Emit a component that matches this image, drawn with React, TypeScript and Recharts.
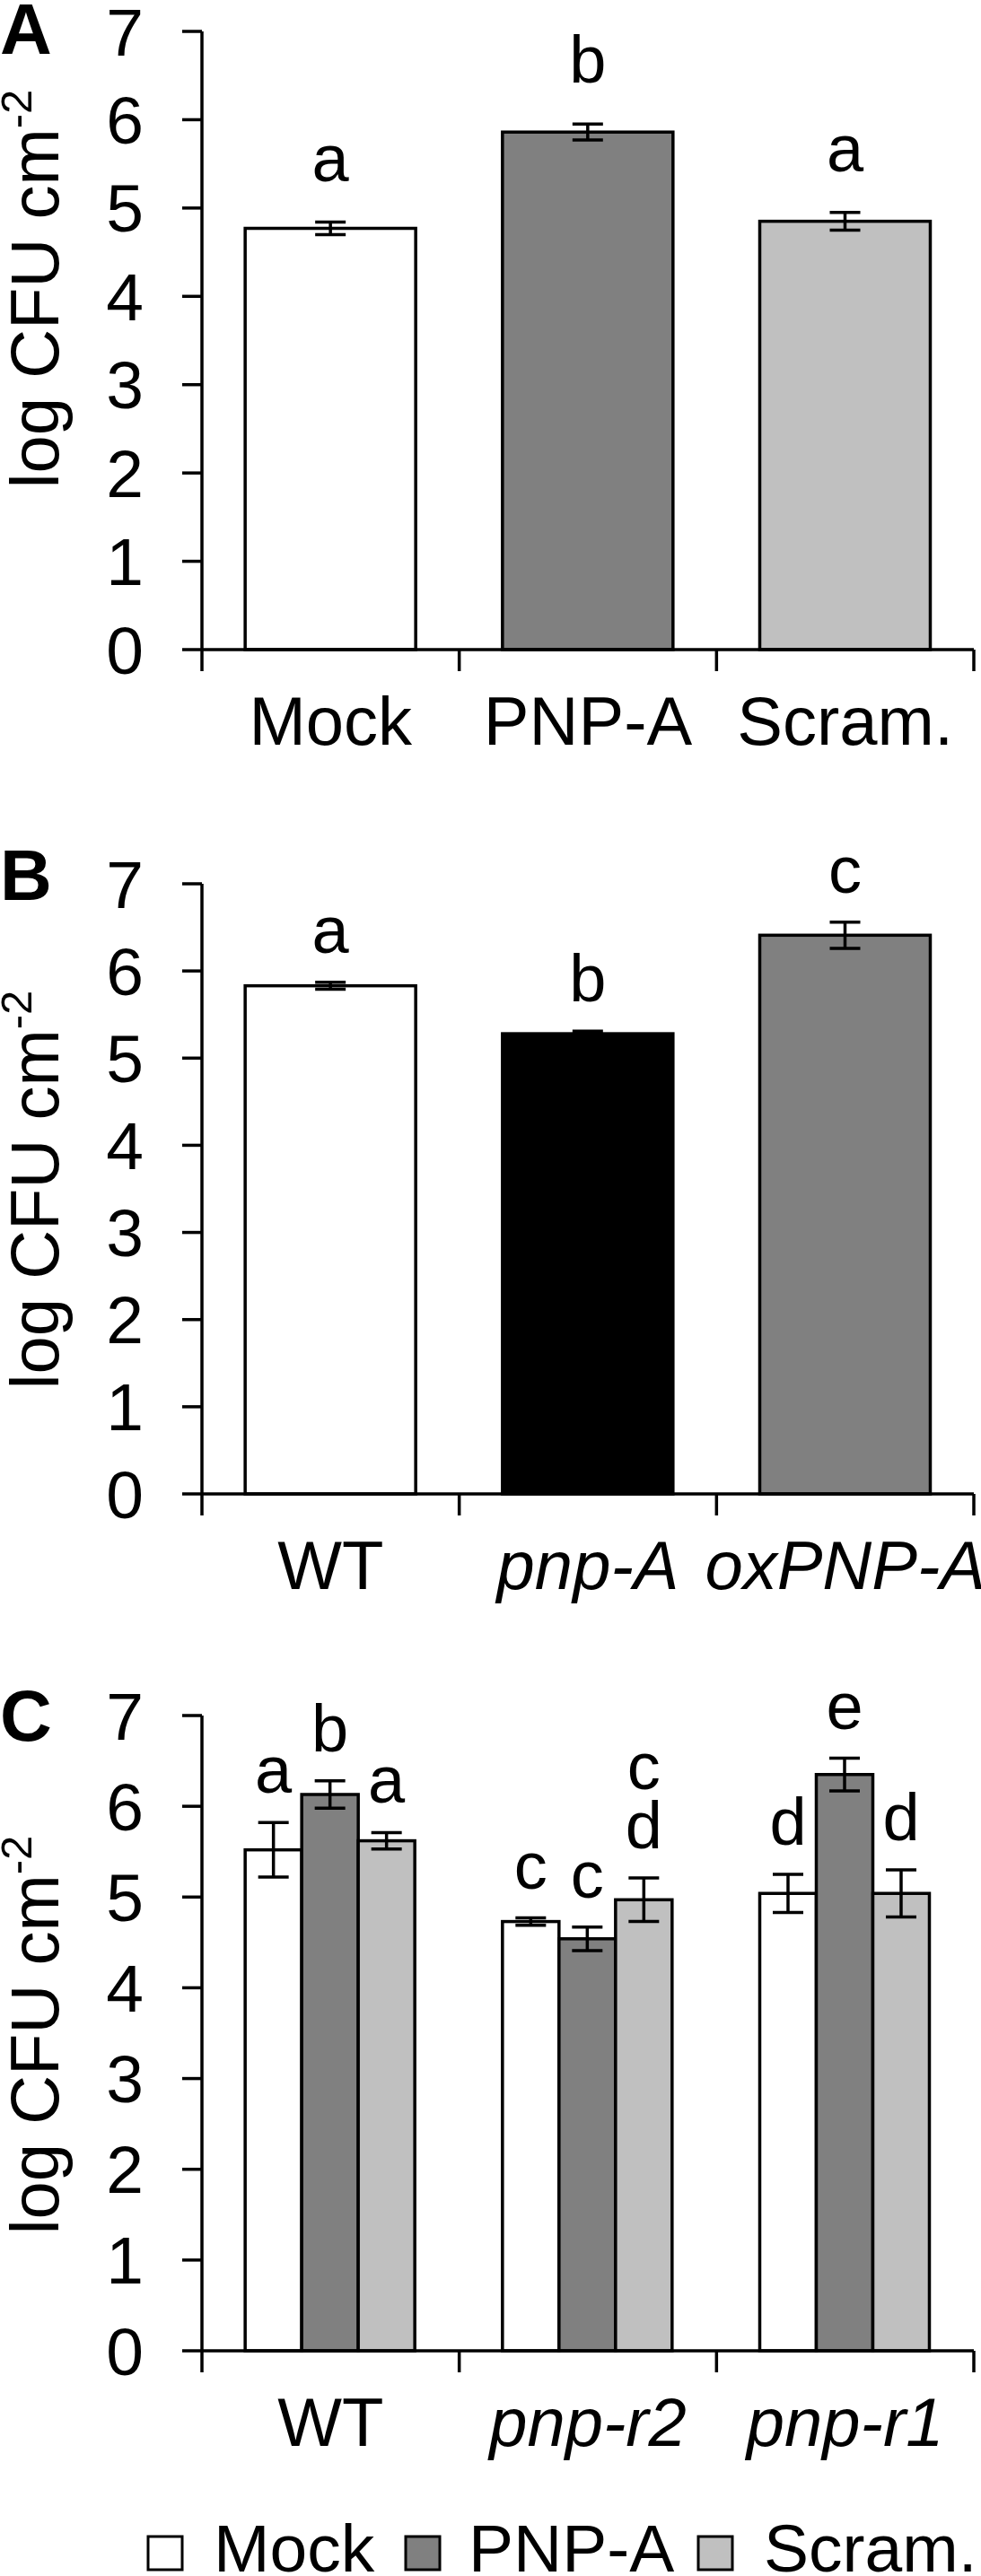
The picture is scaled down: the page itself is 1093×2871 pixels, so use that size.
import { BarChart, Bar, XAxis, YAxis, ErrorBar, Cell } from 'recharts'

const FONT = '"Liberation Sans", Arial, Helvetica, sans-serif'

// Panel A: peptide treatment
const groupsA = ['Mock', 'PNP-A', 'Scram.']
const valuesA = [4.77, 5.86, 4.85]
const errA = [0.07, 0.09, 0.1]
const lettersA = ['a', 'b', 'a']

// Panel B: genotypes
const groupsB = ['WT', 'pnp-A', 'oxPNP-A']
const italicB = [false, true, true]
const valuesB = [5.83, 5.28, 6.41]
const errB = [0.04, 0.03, 0.15]
const lettersB = ['a', 'b', 'c']

// Panel C: genotype x treatment
const groupsC = ['WT', 'pnp-r2', 'pnp-r1']
const italicC = [false, true, true]
const mockC = [5.52, 4.73, 5.04]
const mockErrC = [0.3, 0.04, 0.21]
const mockLetC = ['a', 'c', 'd']
const pnpC = [6.13, 4.54, 6.35]
const pnpErrC = [0.15, 0.13, 0.18]
const pnpLetC = ['b', 'c', 'e']
const scramC = [5.62, 4.97, 5.04]
const scramErrC = [0.09, 0.24, 0.26]
const scramLetC = ['a', 'c\nd', 'd']

const seriesNames = ['Mock', 'PNP-A', 'Scram.']
const yTicks = [0, 1, 2, 3, 4, 5, 6, 7]

const WHITE = '#ffffff'
const DARK = '#808080'
const LIGHT = '#c0c0c0'
const BLACK = '#000000'
const colorsA = [WHITE, DARK, LIGHT]
const colorsB = [WHITE, BLACK, DARK]
const seriesColors = [WHITE, DARK, LIGHT]

const W = 1093
const Y_AXIS_W = 225
const RIGHT = 8
const PLOT_W = W - Y_AXIS_W - RIGHT
const LW = 3.5

const dataA = groupsA.map((g, i) => ({ name: g, value: valuesA[i], err: errA[i], letter: lettersA[i] }))
const dataB = groupsB.map((g, i) => ({ name: g, value: valuesB[i], err: errB[i], letter: lettersB[i] }))
const dataC = groupsC.map((g, i) => ({
  name: g,
  mock: mockC[i], mockErr: mockErrC[i], mockLet: mockLetC[i],
  pnp: pnpC[i], pnpErr: pnpErrC[i], pnpLet: pnpLetC[i],
  scram: scramC[i], scramErr: scramErrC[i], scramLet: scramLetC[i],
}))

// bar rectangle plus significance letter above its error bar
function barShape(valueKey: string, errKey: string, letterKey: string, gap: number) {
  return (p: any) => {
    const { x, y, width, height, fill, payload } = p
    const perUnit = height / payload[valueKey]
    const top = y - payload[errKey] * perUnit
    const lines = String(payload[letterKey]).split('\n')
    return (
      <g>
        <rect x={x} y={y} width={width} height={height} fill={fill} stroke={BLACK} strokeWidth={LW} />
        {lines.map((t, i) => (
          <text
            key={i}
            x={x + width / 2}
            y={top - gap - (lines.length - 1 - i) * 66}
            textAnchor="middle"
            fontSize={74}
            fontFamily={FONT}
            fill={BLACK}
          >
            {t}
          </text>
        ))}
      </g>
    )
  }
}

// category label with tick marks on the category boundaries
function catTick(count: number, italic: boolean[]) {
  return (p: any) => {
    const { x, y, index, payload } = p
    const band = PLOT_W / count
    const left = x - band / 2
    const right = x + band / 2
    return (
      <g>
        <line x1={left} x2={left} y1={y} y2={y + 24} stroke={BLACK} strokeWidth={LW} />
        {index === count - 1 && <line x1={right} x2={right} y1={y} y2={y + 24} stroke={BLACK} strokeWidth={LW} />}
        <text
          x={x}
          y={y + 106}
          textAnchor="middle"
          fontSize={76}
          fontFamily={FONT}
          fontStyle={italic[index] ? 'italic' : 'normal'}
          fill={BLACK}
        >
          {payload.value}
        </text>
      </g>
    )
  }
}

function yAxis() {
  return (
    <YAxis
      domain={[0, 7]}
      ticks={yTicks}
      interval={0}
      width={Y_AXIS_W}
      tickSize={22}
      tickMargin={43}
      axisLine={{ stroke: BLACK, strokeWidth: LW }}
      tickLine={{ stroke: BLACK, strokeWidth: LW }}
      tick={{ fontSize: 75, fill: BLACK, fontFamily: FONT }}
    />
  )
}

function xAxis(height: number, count: number, italic: boolean[]) {
  return (
    <XAxis
      dataKey="name"
      height={height}
      interval={0}
      tickSize={0}
      tickMargin={0}
      tickLine={false}
      axisLine={{ stroke: BLACK, strokeWidth: LW }}
      tick={catTick(count, italic)}
    />
  )
}

function YLabel({ cy }: { cy: number }) {
  return (
    <text transform={`translate(65, ${cy}) rotate(-90)`} textAnchor="middle" fontSize={76} fontFamily={FONT} fill={BLACK}>
      log CFU cm
      <tspan fontSize={49} dy={-30}>-2</tspan>
    </text>
  )
}

const legendPos = [
  { box: 165, text: 238 },
  { box: 452, text: 522 },
  { box: 778, text: 851 },
]

export default function App() {
  return (
    <div style={{ position: 'absolute', left: 0, top: 0, width: W, height: 2871, background: '#fff', fontFamily: FONT }}>
      <div style={{ position: 'absolute', left: 0, top: 0 }}>
        <BarChart width={W} height={860} data={dataA} margin={{ top: 35, right: RIGHT, bottom: 0, left: 0 }} barCategoryGap="16.8%">
          {xAxis(136, groupsA.length, [false, false, false])}
          {yAxis()}
          <Bar dataKey="value" isAnimationActive={false} shape={barShape('value', 'err', 'letter', 46)}>
            {dataA.map((_, i) => <Cell key={i} fill={colorsA[i]} />)}
            <ErrorBar dataKey="err" width={17} stroke={BLACK} strokeWidth={LW} direction="y" />
          </Bar>
        </BarChart>
      </div>

      <div style={{ position: 'absolute', left: 0, top: 860 }}>
        <BarChart width={W} height={940} data={dataB} margin={{ top: 125, right: RIGHT, bottom: 0, left: 0 }} barCategoryGap="16.8%">
          {xAxis(135, groupsB.length, italicB)}
          {yAxis()}
          <Bar dataKey="value" isAnimationActive={false} shape={barShape('value', 'err', 'letter', 33)}>
            {dataB.map((_, i) => <Cell key={i} fill={colorsB[i]} />)}
            <ErrorBar dataKey="err" width={17} stroke={BLACK} strokeWidth={LW} direction="y" />
          </Bar>
        </BarChart>
      </div>

      <div style={{ position: 'absolute', left: 0, top: 1780 }}>
        <BarChart width={W} height={1091} data={dataC} margin={{ top: 132, right: RIGHT, bottom: 0, left: 0 }} barCategoryGap="16.8%" barGap={0}>
          {xAxis(251, groupsC.length, italicC)}
          {yAxis()}
          <Bar dataKey="mock" name={seriesNames[0]} fill={seriesColors[0]} isAnimationActive={false} shape={barShape('mock', 'mockErr', 'mockLet', 33)}>
            <ErrorBar dataKey="mockErr" width={17} stroke={BLACK} strokeWidth={LW} direction="y" />
          </Bar>
          <Bar dataKey="pnp" name={seriesNames[1]} fill={seriesColors[1]} isAnimationActive={false} shape={barShape('pnp', 'pnpErr', 'pnpLet', 33)}>
            <ErrorBar dataKey="pnpErr" width={17} stroke={BLACK} strokeWidth={LW} direction="y" />
          </Bar>
          <Bar dataKey="scram" name={seriesNames[2]} fill={seriesColors[2]} isAnimationActive={false} shape={barShape('scram', 'scramErr', 'scramLet', 33)}>
            <ErrorBar dataKey="scramErr" width={17} stroke={BLACK} strokeWidth={LW} direction="y" />
          </Bar>
        </BarChart>
      </div>

      <svg width={W} height={2871} style={{ position: 'absolute', left: 0, top: 0, pointerEvents: 'none' }}>
        <g fontFamily={FONT} fontWeight="bold" fontSize={80} fill={BLACK}>
          <text x={0} y={60}>A</text>
          <text x={0} y={1003}>B</text>
          <text x={0} y={1940}>C</text>
        </g>
        <YLabel cy={322} />
        <YLabel cy={1326} />
        <YLabel cy={2268} />
        {seriesNames.map((n, i) => (
          <g key={n}>
            <rect x={legendPos[i].box} y={2827} width={38} height={37} fill={seriesColors[i]} stroke={BLACK} strokeWidth={3} />
            <text x={legendPos[i].text} y={2866} fontSize={75} fontFamily={FONT} fill={BLACK}>{n}</text>
          </g>
        ))}
      </svg>
    </div>
  )
}
